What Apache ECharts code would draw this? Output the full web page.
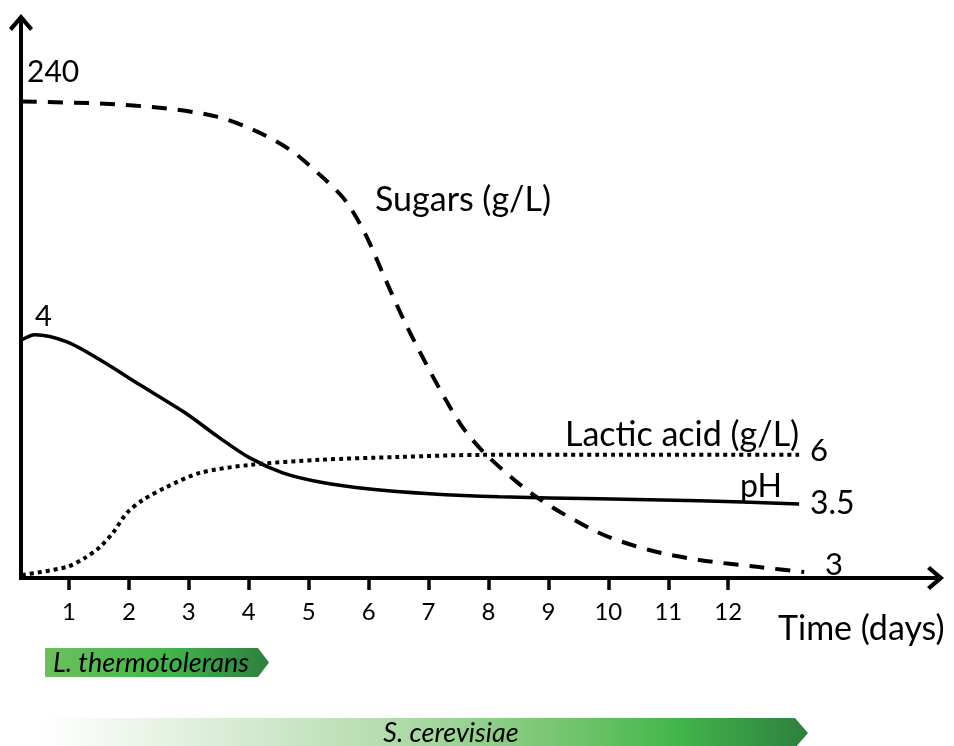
<!DOCTYPE html>
<html>
<head>
<meta charset="utf-8">
<script src="https://cdn.jsdelivr.net/npm/echarts@6/dist/echarts.min.js"></script>
<style>
html,body{margin:0;padding:0;background:#fff;}
#chart{width:954px;height:746px;}
</style>
</head>
<body>
<div id="chart"></div>
<script>
// ---- data (days, value) ----
const dayTicks = [1,2,3,4,5,6,7,8,9,10,11,12];
const sugarDays   = [0.217,1.517,2.633,3.467,4.067,4.683,5.183,5.6,5.933,6.267,6.6,6.933,7.267,7.6,8.017,8.8,9.85,10.683,11.517,12.517,13.267];
const sugarValues = [240,239.0,236.5,232.4,225.9,215.8,203.2,190.6,174.0,151.3,129.1,109.4,90.8,74.6,60.5,40.8,22.7,14.1,9.1,5.5,3];
const phDays   = [0.217,0.433,0.967,1.517,2.183,2.967,3.467,4.017,4.567,5.183,6.017,7.017,8.183,9.85,11.517,13.183];
const phValues = [3.985,4.0,3.979,3.926,3.852,3.766,3.701,3.636,3.592,3.565,3.544,3.530,3.521,3.515,3.509,3.5];
const lacticDays   = [0.217,0.967,1.267,1.517,1.733,1.967,2.233,2.633,3.183,4.017,5.183,6.517,7.9,9.85,13.183];
const lacticValues = [0.15,0.54,0.98,1.51,2.2,3.17,3.8,4.44,5.12,5.51,5.76,5.9,6.0,6.0,6.0];

const zip = (xs, ys) => xs.map((x, i) => [x, ys[i]]);
const FONT = 'Lato';
const chevron = 'path://M12,0 L24,14 L21,17 L12,6.5 L3,17 L0,14 Z';

const chart = echarts.init(document.getElementById('chart'), null, {renderer: 'canvas'});

const txt = (x, y, text, size) => ({
  type: 'text', x: x, y: y,
  style: {text: text, font: size + 'px ' + FONT, fill: '#000', textVerticalAlign: 'middle', textAlign: 'left'}
});

chart.setOption({
  animation: false,
  backgroundColor: '#fff',
  grid: {left: 21, right: 954 - 935.5, top: 22.5, bottom: 746 - 578},
  xAxis: {
    type: 'value', min: 0.2, max: 15.458,
    splitLine: {show: false},
    axisLine: {onZero: false, symbol: ['none', chevron], symbolSize: [24, 17],
      lineStyle: {color: '#000', width: 4, cap: 'square'}},
    axisTick: {show: true, customValues: dayTicks, length: 12, lineStyle: {color: '#000', width: 3.5}},
    axisLabel: {show: true, customValues: dayTicks, margin: 22, color: '#000', fontSize: 24, fontFamily: FONT}
  },
  yAxis: [
    {type: 'value', min: 0, max: 279.83, position: 'left',
      splitLine: {show: false}, axisTick: {show: false}, axisLabel: {show: false},
      axisLine: {show: true, onZero: false, symbol: ['none', chevron], symbolSize: [24, 17],
        lineStyle: {color: '#000', width: 4, cap: 'square'}}},
    {type: 'value', min: 3.281, max: 4.923, show: false},
    {type: 'value', min: 0, max: 27.07, show: false}
  ],
  series: [
    {name: 'Sugars (g/L)', type: 'line', yAxisIndex: 0, data: zip(sugarDays, sugarValues),
      smooth: 0.3, symbol: 'none',
      lineStyle: {color: '#000', width: 4, type: [15, 11], cap: 'butt'}},
    {name: 'pH', type: 'line', yAxisIndex: 1, data: zip(phDays, phValues),
      smooth: 0.3, symbol: 'none',
      lineStyle: {color: '#000', width: 3.5}},
    {name: 'Lactic acid (g/L)', type: 'line', yAxisIndex: 2, data: zip(lacticDays, lacticValues),
      smooth: 0.3, symbol: 'none',
      lineStyle: {color: '#000', width: 4, type: [4, 4], cap: 'butt'}}
  ],
  graphic: [
    {type: 'polygon', shape: {points: [[45,648],[258,648],[269,662.5],[258,677],[45,677]]},
      style: {fill: {type: 'linear', x: 0, y: 0, x2: 1, y2: 0, colorStops: [
        {offset: 0, color: '#6cc05c'}, {offset: 0.55, color: '#41b54b'}, {offset: 1, color: '#2e7f40'}]}}},
    {type: 'polygon', shape: {points: [[40,718],[795,718],[808,733],[795,748],[40,748]]},
      style: {fill: {type: 'linear', x: 0, y: 0, x2: 1, y2: 0, colorStops: [
        {offset: 0, color: '#ffffff'}, {offset: 0.15, color: '#e8f4e6'}, {offset: 0.45, color: '#b5dcae'},
        {offset: 0.7, color: '#6fc46a'}, {offset: 0.83, color: '#42b64b'}, {offset: 1, color: '#2e7f3f'}]}}},
    {type: 'text', x: 151, y: 663, style: {text: 'L. thermotolerans', font: 'italic 27px ' + FONT, fill: '#000', textAlign: 'center', textVerticalAlign: 'middle'}},
    {type: 'text', x: 451, y: 733, style: {text: 'S. cerevisiae', font: 'italic 27px ' + FONT, fill: '#000', textAlign: 'center', textVerticalAlign: 'middle'}},
    txt(27, 72, '240', 30),
    txt(35, 317, '4', 29),
    txt(375, 200, 'Sugars (g/L)', 34),
    txt(565, 435, 'Lactic acid (g/L)', 34),
    txt(810, 451, '6', 31),
    txt(740, 487, 'pH', 32),
    txt(810, 504, '3.5', 32),
    txt(825, 565, '3', 31),
    txt(778, 629, 'Time (days)', 34)
  ]
});
</script>
</body>
</html>
